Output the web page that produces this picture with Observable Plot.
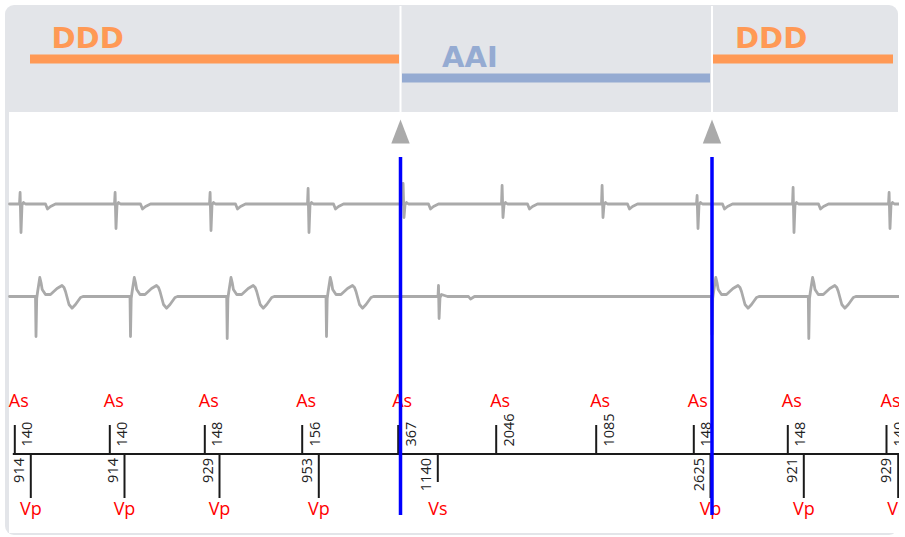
<!DOCTYPE html>
<html><head><meta charset="utf-8">
<script src="https://cdn.jsdelivr.net/npm/d3@7"></script>
<script src="https://cdn.jsdelivr.net/npm/@observablehq/plot@0.6"></script>
<style>
html,body{margin:0;padding:0;background:#fff;width:905px;height:537px;overflow:hidden;}
#wrap{position:relative;width:905px;height:537px;}
#frame{position:absolute;left:5px;top:5px;width:893px;height:530px;background:#e3e5e9;border-radius:9px;}
#inner{position:absolute;left:9px;top:112px;width:900px;height:421px;background:#fff;}
#chart{position:absolute;left:0;top:0;}
</style></head>
<body><div id="wrap"><div id="frame"></div><div id="inner"></div><div id="chart"></div></div>
<script>
// ---------- data (time in ms) ----------
const modeNames   = ["DDD", "AAI", "DDD"];
const modeStart   = [300, 4020, 7130];
const modeEnd     = [3990, 7100, 8930];
const modeLabelAt = [510, 4415, 7345];
const modeChanges = [4000, 7115];

const asTimes  = [143, 1093, 2043, 3017, 3977, 4957, 5957, 6933, 7873, 8860];
const asValues = [140, 140, 148, 156, 367, 2046, 1085, 148, 148, 140];

const vTimes  = [303, 1240, 2190, 3183, 4373, 7100, 8033, 8977];
const vTypes  = ["Vp", "Vp", "Vp", "Vp", "Vs", "Vp", "Vp", "Vp"];
const vValues = [914, 914, 929, 953, 1140, 2625, 921, 929];

// atrial EGM: spike times, spike height up / down
const aBeatTimes = [200, 1150, 2100, 3080, 4030, 5020, 6020, 6970, 7930, 8890];
const aBeatUp    = [11.5, 11.5, 11.5, 15.5, 20.5, 18.5, 18.5, 8.5, 16.5, 11.5];
const aBeatDown  = [28.5, 24.5, 26.5, 28.5, 13.5, 13.5, 13.5, 24.5, 28.5, 24.5];
// ventricular EGM: paced complexes and sensed complex
const vpBeatTimes = [355, 1300, 2267, 3260, 7115, 8083];
const vpBeatDepth = [40, 40, 42, 40, 38, 42];
const vsBeatTimes = [4380];

// beat shapes: [dt ms, amplitude]
const aSpikeShape = [[-10, 0], [-4, "up"], [5, "down"], [15, -1], [30, 1.5], [50, 0]];
const aFarField   = [[250, 0], [270, -5], [300, -2.5], [350, 0]];
const vPacedShape = [[-5, 0], [0, "depth"], [7, -2], [15, 4], [38, 19], [50, 14], [62, 7], [95, 2], [145, 2],
                     [210, 8], [260, 11], [280, 9], [295, 5], [330, -8], [360, -11.7], [395, -8], [445, -1], [470, 0]];
const vSensedShape = [[-5, 0], [0, 11], [6, -22], [15, -1], [30, 2], [60, 1], [90, 0], [300, 0], [320, -2.5], [360, 0]];

// ---------- layout ----------
const T0 = 0, T1 = 9050;
const A_BASE = 203.5, V_BASE = 296;
const modeColor = {DDD: "#ff9955", AAI: "#95abd2"};
const modeLineY = {DDD: 58.5, AAI: 77.5};
const AXIS_Y = 453.5;

const modes = modeNames.map((m, i) => ({mode: m, start: modeStart[i], end: modeEnd[i], labelAt: modeLabelAt[i]}));
const asEvents = asTimes.map((t, i) => ({t, value: asValues[i]}));
const vEvents = vTimes.map((t, i) => ({t, type: vTypes[i], value: vValues[i]}));

function trace(base, beats, tStart, tEnd) {
  const pts = [{t: tStart, y: base}];
  beats.sort((a, b) => a.t - b.t);
  for (const b of beats) for (const [dt, amp] of b.shape) {
    const a = typeof amp === "string" ? b[amp] : amp;
    pts.push({t: b.t + dt, y: base - a});
  }
  pts.push({t: tEnd, y: base});
  return pts;
}
const aTrace = trace(A_BASE, aBeatTimes.map((t, i) => ({
  t, up: aBeatUp[i], down: -aBeatDown[i], shape: aSpikeShape.concat(aFarField)
})), 90, T1);
const vTrace = trace(V_BASE, [
  ...vpBeatTimes.map((t, i) => ({t, depth: -vpBeatDepth[i], shape: vPacedShape})),
  ...vsBeatTimes.map(t => ({t, shape: vSensedShape}))
], 90, T1);

const tri = {draw(ctx) { ctx.moveTo(0, -12); ctx.lineTo(9.2, 12); ctx.lineTo(-9.2, 12); ctx.closePath(); }};

const chart = Plot.plot({
  width: 899, height: 537,
  marginTop: 0, marginRight: 0, marginBottom: 0, marginLeft: 0,
  x: {domain: [T0, T1], range: [0, 905], axis: null},
  y: {domain: [0, 537], range: [0, 537], axis: null},
  color: {type: "identity"},
  style: {background: "transparent", fontFamily: "'Open Sans', 'Noto Sans', sans-serif", maxWidth: "none"},
  marks: [
    Plot.ruleX(modeChanges, {x: d => d, y1: 6, y2: 112, stroke: "#ffffff", strokeWidth: 2}),
    Plot.ruleY(modes, {y: d => modeLineY[d.mode], x1: "start", x2: "end", stroke: d => modeColor[d.mode], strokeWidth: 9}),
    Plot.text(modes, {x: "labelAt", y: d => modeLineY[d.mode] - 11.5, text: "mode", fill: d => modeColor[d.mode],
      fontSize: 29, fontWeight: "bold", fontFamily: "DejaVu Sans", textAnchor: "start", lineAnchor: "bottom",
      letterSpacing: "1.5px"}),
    Plot.line(aTrace, {x: "t", y: "y", stroke: "#aaaaaa", strokeWidth: 2.8, strokeLinejoin: "round"}),
    Plot.line(vTrace, {x: "t", y: "y", stroke: "#aaaaaa", strokeWidth: 2.8, strokeLinejoin: "round"}),
    Plot.ruleY([AXIS_Y], {y: d => d, x1: d3.min(asTimes) - 15, x2: T1, stroke: "#1a1a1a", strokeWidth: 2}),
    Plot.ruleX(asEvents, {x: "t", y1: 425, y2: AXIS_Y, stroke: "#1a1a1a", strokeWidth: 2}),
    Plot.ruleX(vEvents, {x: "t", y1: AXIS_Y, y2: d => d.type === "Vp" ? 498 : 482, stroke: "#1a1a1a", strokeWidth: 2}),
    Plot.text(asEvents, {x: "t", y: 406, text: () => "As", dx: 4, fill: "#ff0000", fontSize: 18, lineAnchor: "bottom"}),
    Plot.text(vEvents, {x: "t", y: 514, text: "type", fill: "#ff0000", fontSize: 18, lineAnchor: "bottom"}),
    Plot.text(asEvents, {x: "t", y: 446, text: d => String(d.value), rotate: -90, textAnchor: "start", dx: 13,
      fontSize: 14.5, fill: "#222222"}),
    Plot.text(vEvents, {x: "t", y: 457.5, text: d => String(d.value), rotate: -90, textAnchor: "end", dx: -11.5,
      fontSize: 14.5, fill: "#222222"}),
    Plot.ruleX(modeChanges, {x: d => d, y1: 157, y2: 515, stroke: "#0000ff", strokeWidth: 3.5}),
    Plot.dot(modeChanges, {x: d => d, y: 131, symbol: tri, r: 10, fill: "#aaaaaa", stroke: "none"})
  ]
});
document.getElementById("chart").appendChild(chart);
</script>
</body></html>
